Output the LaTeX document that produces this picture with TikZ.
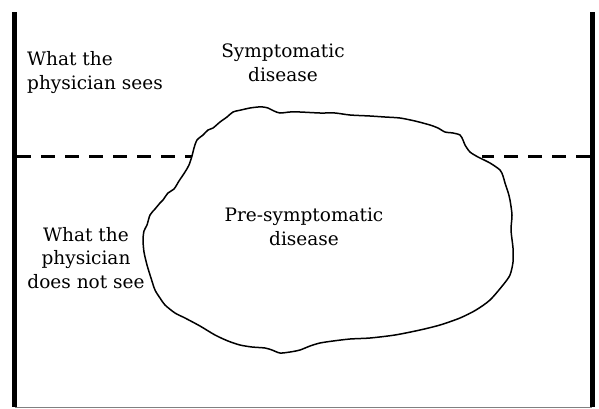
\documentclass[tikz,border=0pt]{standalone}
\usepackage{fontspec}
\setmainfont{DejaVu Serif}
\begin{document}
\begin{tikzpicture}[x=1pt,y=-1pt,
  lbl/.style={inner sep=0pt,font=\fontsize{18.5}{23.5}\selectfont},
  bar/.style={line width=5pt},
  divider/.style={line width=3pt,dash pattern=on 14pt off 10pt},
  blob/.style={line width=1.5pt,line join=round}]
\useasboundingbox (0,0) rectangle (599,408);
% frame
\coordinate (lt) at (14.5,12);
\coordinate (lb) at (14.5,407);
\coordinate (rt) at (592,12);
\coordinate (rb) at (592,407);
\draw[bar] (lt) -- (lb);
\draw[bar] (rt) -- (rb);
\draw[gray,line width=1pt] (lb) -- (rb);
% dashed divider
\coordinate (dl0) at (17,156);
\coordinate (dl1) at (192,156);
\coordinate (dr0) at (482,156);
\coordinate (dr1) at (590,156);
\draw[divider] (dl0) -- (dl1);
\draw[divider] (dr1) -- (dr0);
% blob
\draw[blob] plot[smooth cycle,tension=0.45] coordinates {
(163,200) (168,193) (174,189) (179,181) (185,172) (189,165) (192,156)
(194,148) (197,140) (203,135) (208,130) (213,128) (220,122) (227,117)
(233,112) (241,110) (250,108) (258,107) (263,107) (268,108) (274,111)
(280,113) (290,112) (300,112) (320,113) (335,113) (350,115) (370,116)
(385,117) (400,118) (415,121) (430,125) (438,128) (445,132) (453,133)
(460,135) (463,140) (465,145) (470,152) (478,157) (490,163) (500,170)
(503,176) (505,183) (508,192) (510,200) (512,215) (511,230) (513,248)
(513,262) (510,275) (503,285) (490,300) (476,310) (460,318) (440,325)
(420,330) (395,335) (370,338) (350,339) (333,341) (320,343) (310,346)
(300,350) (290,352) (280,353) (272,350) (265,348) (252,347) (240,345)
(228,341) (215,335) (200,326) (185,318) (175,313) (165,305) (160,298)
(155,290) (151,278) (147,265) (144,252) (143,240) (144,231) (147,225)
(150,215) (155,209) (160,203)};
% labels
\node[lbl,anchor=base west,align=left] (sees) at (27,89) {What the\\physician sees};
\node[lbl,anchor=base,align=center] (sympt) at (283,81) {Symptomatic\\disease};
\node[lbl,anchor=base,align=center] (notsee) at (86,288) {What the\\physician\\does not see};
\node[lbl,anchor=base,align=center] (presym) at (304,245) {Pre-symptomatic\\disease};
\end{tikzpicture}
\end{document}
